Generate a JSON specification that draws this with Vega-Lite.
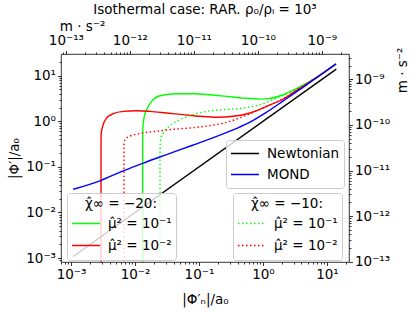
{
  "$schema": "https://vega.github.io/schema/vega-lite/v6.json",
  "width": 288,
  "height": 208,
  "autosize": {"type": "none"},
  "padding": {"left": 61, "top": 54, "right": 64, "bottom": 50},
  "background": "white",
  "title": {"text": "Isothermal case: RAR. ρ₀/ρₗ = 10³", "font": "DejaVu Sans", "fontSize": 13.5, "fontWeight": "normal", "color": "black", "anchor": "middle", "frame": "group", "offset": 3},
  "config": {
    "font": "DejaVu Sans",
    "view": {"stroke": "black", "strokeWidth": 0.8},
    "axis": {"domain": false, "grid": false, "tickColor": "black", "tickWidth": 0.8, "labelColor": "black", "labelFont": "DejaVu Sans", "labelFontSize": 13.5, "labelPadding": 2, "labelOverlap": false, "labelBound": false, "labelFlush": false, "titleFont": "DejaVu Sans", "titleFontWeight": "normal", "titleColor": "black", "titleFontSize": 13.5},
    "legend": {"labelFont": "DejaVu Sans", "labelFontSize": 13.5, "labelColor": "black", "titleFont": "DejaVu Sans", "titleFontSize": 13.5, "titleFontWeight": "normal", "titleColor": "black", "fillColor": "rgba(255,255,255,0.8)", "strokeColor": "#cccccc", "cornerRadius": 3, "symbolType": "stroke", "symbolSize": 784, "symbolStrokeWidth": 1.5, "symbolOpacity": 1, "labelOffset": 7, "padding": 4}
  },
  "datasets": {
    "ref": [
      {"s": "Newtonian", "x": 0.001081, "y": 0.001081},
      {"s": "Newtonian", "x": 14.0, "y": 14.0},
      {"s": "MOND", "x": 0.001081, "y": 0.03228},
      {"s": "MOND", "x": 0.002838, "y": 0.04955},
      {"s": "MOND", "x": 0.006561, "y": 0.08222},
      {"s": "MOND", "x": 0.01349, "y": 0.1216},
      {"s": "MOND", "x": 0.03126, "y": 0.1862},
      {"s": "MOND", "x": 0.08147, "y": 0.302},
      {"s": "MOND", "x": 0.1888, "y": 0.4677},
      {"s": "MOND", "x": 0.3981, "y": 0.7079},
      {"s": "MOND", "x": 0.6266, "y": 0.955},
      {"s": "MOND", "x": 1.14, "y": 1.585},
      {"s": "MOND", "x": 2.08, "y": 2.818},
      {"s": "MOND", "x": 3.784, "y": 5.012},
      {"s": "MOND", "x": 6.902, "y": 9.12},
      {"s": "MOND", "x": 13.84, "y": 18.2}
    ],
    "chi20": [
      {"mu": "μ̂² = 10⁻¹", "x": 0.01318, "y": 0.00001},
      {"mu": "μ̂² = 10⁻¹", "x": 0.01319, "y": 0.45},
      {"mu": "μ̂² = 10⁻¹", "x": 0.0133, "y": 0.7},
      {"mu": "μ̂² = 10⁻¹", "x": 0.01349, "y": 0.92},
      {"mu": "μ̂² = 10⁻¹", "x": 0.014, "y": 1.3},
      {"mu": "μ̂² = 10⁻¹", "x": 0.01521, "y": 1.8},
      {"mu": "μ̂² = 10⁻¹", "x": 0.0182, "y": 2.735},
      {"mu": "μ̂² = 10⁻¹", "x": 0.0246, "y": 3.639},
      {"mu": "μ̂² = 10⁻¹", "x": 0.04477, "y": 4.027},
      {"mu": "μ̂² = 10⁻¹", "x": 0.08147, "y": 4.027},
      {"mu": "μ̂² = 10⁻¹", "x": 0.1486, "y": 3.828},
      {"mu": "μ̂² = 10⁻¹", "x": 0.2704, "y": 3.524},
      {"mu": "μ̂² = 10⁻¹", "x": 0.4932, "y": 3.236},
      {"mu": "μ̂² = 10⁻¹", "x": 0.8974, "y": 3.076},
      {"mu": "μ̂² = 10⁻¹", "x": 1.285, "y": 3.184},
      {"mu": "μ̂² = 10⁻¹", "x": 2.08, "y": 3.828},
      {"mu": "μ̂² = 10⁻¹", "x": 3.784, "y": 5.7},
      {"mu": "μ̂² = 10⁻¹", "x": 6.902, "y": 9.25},
      {"mu": "μ̂² = 10⁻¹", "x": 13.84, "y": 18.15},
      {"mu": "μ̂² = 10⁻²", "x": 0.002944, "y": 0.00001},
      {"mu": "μ̂² = 10⁻²", "x": 0.002946, "y": 0.35},
      {"mu": "μ̂² = 10⁻²", "x": 0.00297, "y": 0.55},
      {"mu": "μ̂² = 10⁻²", "x": 0.003126, "y": 0.778},
      {"mu": "μ̂² = 10⁻²", "x": 0.003606, "y": 1.183},
      {"mu": "μ̂² = 10⁻²", "x": 0.004581, "y": 1.472},
      {"mu": "μ̂² = 10⁻²", "x": 0.006577, "y": 1.656},
      {"mu": "μ̂² = 10⁻²", "x": 0.01062, "y": 1.71},
      {"mu": "μ̂² = 10⁻²", "x": 0.01714, "y": 1.656},
      {"mu": "μ̂² = 10⁻²", "x": 0.03126, "y": 1.524},
      {"mu": "μ̂² = 10⁻²", "x": 0.05689, "y": 1.4},
      {"mu": "μ̂² = 10⁻²", "x": 0.1038, "y": 1.288},
      {"mu": "μ̂² = 10⁻²", "x": 0.1888, "y": 1.225},
      {"mu": "μ̂² = 10⁻²", "x": 0.3436, "y": 1.288},
      {"mu": "μ̂² = 10⁻²", "x": 0.6266, "y": 1.524},
      {"mu": "μ̂² = 10⁻²", "x": 1.14, "y": 2.128},
      {"mu": "μ̂² = 10⁻²", "x": 2.08, "y": 3.09},
      {"mu": "μ̂² = 10⁻²", "x": 3.784, "y": 5.37},
      {"mu": "μ̂² = 10⁻²", "x": 6.902, "y": 9.2},
      {"mu": "μ̂² = 10⁻²", "x": 13.84, "y": 18.15}
    ],
    "chi10": [
      {"mu": "μ̂² = 10⁻¹", "x": 0.0246, "y": 0.00001},
      {"mu": "μ̂² = 10⁻¹", "x": 0.02461, "y": 0.2},
      {"mu": "μ̂² = 10⁻¹", "x": 0.0248, "y": 0.33},
      {"mu": "μ̂² = 10⁻¹", "x": 0.0256, "y": 0.45},
      {"mu": "μ̂² = 10⁻¹", "x": 0.02773, "y": 0.557},
      {"mu": "μ̂² = 10⁻¹", "x": 0.03319, "y": 0.752},
      {"mu": "μ̂² = 10⁻¹", "x": 0.04477, "y": 1.0},
      {"mu": "μ̂² = 10⁻¹", "x": 0.07228, "y": 1.33},
      {"mu": "μ̂² = 10⁻¹", "x": 0.1318, "y": 1.656},
      {"mu": "μ̂² = 10⁻¹", "x": 0.2399, "y": 1.799},
      {"mu": "μ̂² = 10⁻¹", "x": 0.4932, "y": 1.959},
      {"mu": "μ̂² = 10⁻¹", "x": 0.8974, "y": 2.317},
      {"mu": "μ̂² = 10⁻¹", "x": 1.637, "y": 3.236},
      {"mu": "μ̂² = 10⁻¹", "x": 3.784, "y": 5.65},
      {"mu": "μ̂² = 10⁻¹", "x": 6.902, "y": 9.25},
      {"mu": "μ̂² = 10⁻¹", "x": 13.84, "y": 18.15},
      {"mu": "μ̂² = 10⁻²", "x": 0.00673, "y": 0.00001},
      {"mu": "μ̂² = 10⁻²", "x": 0.006732, "y": 0.25},
      {"mu": "μ̂² = 10⁻²", "x": 0.0068, "y": 0.33},
      {"mu": "μ̂² = 10⁻²", "x": 0.006982, "y": 0.398},
      {"mu": "μ̂² = 10⁻²", "x": 0.008356, "y": 0.471},
      {"mu": "μ̂² = 10⁻²", "x": 0.01349, "y": 0.557},
      {"mu": "μ̂² = 10⁻²", "x": 0.02183, "y": 0.605},
      {"mu": "μ̂² = 10⁻²", "x": 0.03524, "y": 0.658},
      {"mu": "μ̂² = 10⁻²", "x": 0.07228, "y": 0.716},
      {"mu": "μ̂² = 10⁻²", "x": 0.1486, "y": 0.805},
      {"mu": "μ̂² = 10⁻²", "x": 0.3048, "y": 1.0},
      {"mu": "μ̂² = 10⁻²", "x": 0.6266, "y": 1.472},
      {"mu": "μ̂² = 10⁻²", "x": 1.14, "y": 2.138},
      {"mu": "μ̂² = 10⁻²", "x": 2.08, "y": 3.162},
      {"mu": "μ̂² = 10⁻²", "x": 3.784, "y": 5.45},
      {"mu": "μ̂² = 10⁻²", "x": 6.902, "y": 9.2},
      {"mu": "μ̂² = 10⁻²", "x": 13.84, "y": 18.15}
    ]
  },
  "layer": [
    {
      "data": {"name": "chi20"},
      "mark": {"type": "line", "strokeWidth": 1.4, "clip": true, "interpolate": "monotone"},
      "encoding": {
        "x": {"field": "x", "type": "quantitative", "scale": {"type": "log", "domain": [0.000698, 22.1], "nice": false},
          "axis": {"orient": "bottom",
            "values": [0.0007, 0.0008, 0.0009, 0.001, 0.002, 0.003, 0.004, 0.005, 0.006, 0.007, 0.008, 0.009, 0.01, 0.02, 0.03, 0.04, 0.05, 0.06, 0.07, 0.08, 0.09, 0.1, 0.2, 0.3, 0.4, 0.5, 0.6, 0.7, 0.8, 0.9, 1, 2, 3, 4, 5, 6, 7, 8, 9, 10, 20],
            "labelExpr": "abs(log(datum.value)/LN10 - round(log(datum.value)/LN10)) > 0.001 ? '' : round(log(datum.value)/LN10) == -3 ? '10⁻³' : round(log(datum.value)/LN10) == -2 ? '10⁻²' : round(log(datum.value)/LN10) == -1 ? '10⁻¹' : round(log(datum.value)/LN10) == 0 ? '10⁰' : '10¹'",
            "tickSize": {"condition": {"test": "abs(log(datum.value)/LN10 - round(log(datum.value)/LN10)) < 0.001", "value": 3.5}, "value": 2},
            "title": "|Φ′ₙ|/a₀", "titleX": 144, "titleY": 37, "titleAlign": "center", "titleBaseline": "middle"}},
        "y": {"field": "y", "type": "quantitative", "scale": {"type": "log", "domain": [0.00082, 30], "nice": false},
          "axis": {"orient": "left",
            "values": [0.0009, 0.001, 0.002, 0.003, 0.004, 0.005, 0.006, 0.007, 0.008, 0.009, 0.01, 0.02, 0.03, 0.04, 0.05, 0.06, 0.07, 0.08, 0.09, 0.1, 0.2, 0.3, 0.4, 0.5, 0.6, 0.7, 0.8, 0.9, 1, 2, 3, 4, 5, 6, 7, 8, 9, 10, 20],
            "labelExpr": "abs(log(datum.value)/LN10 - round(log(datum.value)/LN10)) > 0.001 ? '' : round(log(datum.value)/LN10) == -3 ? '10⁻³' : round(log(datum.value)/LN10) == -2 ? '10⁻²' : round(log(datum.value)/LN10) == -1 ? '10⁻¹' : round(log(datum.value)/LN10) == 0 ? '10⁰' : '10¹'",
            "tickSize": {"condition": {"test": "abs(log(datum.value)/LN10 - round(log(datum.value)/LN10)) < 0.001", "value": 3.5}, "value": 2},
            "title": "|Φ′|/a₀", "titleX": -47, "titleY": 104, "titleAngle": 270, "titleAlign": "center", "titleBaseline": "middle"}},
        "color": {"field": "mu", "type": "nominal", "scale": {"domain": ["μ̂² = 10⁻¹", "μ̂² = 10⁻²"], "range": ["#00ff00", "#ff0000"]},
          "legend": {"orient": "none", "legendX": 6, "legendY": 139, "title": "χ̂∞ = −20:", "titleAnchor": "middle", "titlePadding": 3, "clipHeight": 20}}
      }
    },
    {
      "data": {"name": "chi10"},
      "mark": {"type": "line", "strokeWidth": 1.4, "clip": true, "interpolate": "monotone", "strokeDash": [1.5, 2.5]},
      "encoding": {
        "x": {"field": "x", "type": "quantitative", "scale": {"type": "log", "domain": [0.000698, 22.1], "nice": false},
          "axis": {"orient": "top",
            "values": [0.00075, 0.000833333, 0.00166667, 0.0025, 0.00333333, 0.00416667, 0.005, 0.00583333, 0.00666667, 0.0075, 0.00833333, 0.0166667, 0.025, 0.0333333, 0.0416667, 0.05, 0.0583333, 0.0666667, 0.075, 0.0833333, 0.166667, 0.25, 0.333333, 0.416667, 0.5, 0.583333, 0.666667, 0.75, 0.833333, 1.66667, 2.5, 3.33333, 4.16667, 5, 5.83333, 6.66667, 7.5, 8.33333, 16.6667],
            "labelExpr": "abs(log(datum.value*1.2e-10)/LN10 - round(log(datum.value*1.2e-10)/LN10)) > 0.001 ? '' : round(log(datum.value*1.2e-10)/LN10) == -13 ? '10⁻¹³' : round(log(datum.value*1.2e-10)/LN10) == -12 ? '10⁻¹²' : round(log(datum.value*1.2e-10)/LN10) == -11 ? '10⁻¹¹' : round(log(datum.value*1.2e-10)/LN10) == -10 ? '10⁻¹⁰' : '10⁻⁹'",
            "tickSize": {"condition": {"test": "abs(log(datum.value*1.2e-10)/LN10 - round(log(datum.value*1.2e-10)/LN10)) < 0.001", "value": 3.5}, "value": 2},
            "labelPadding": 3,
            "title": "m · s⁻²", "titleX": 21, "titleY": -28, "titleAlign": "center", "titleBaseline": "middle", "titleAngle": 0}},
        "y": {"field": "y", "type": "quantitative", "scale": {"type": "log", "domain": [0.00082, 30], "nice": false},
          "axis": {"orient": "right",
            "values": [0.000833333, 0.00166667, 0.0025, 0.00333333, 0.00416667, 0.005, 0.00583333, 0.00666667, 0.0075, 0.00833333, 0.0166667, 0.025, 0.0333333, 0.0416667, 0.05, 0.0583333, 0.0666667, 0.075, 0.0833333, 0.166667, 0.25, 0.333333, 0.416667, 0.5, 0.583333, 0.666667, 0.75, 0.833333, 1.66667, 2.5, 3.33333, 4.16667, 5, 5.83333, 6.66667, 7.5, 8.33333, 16.6667, 25],
            "labelExpr": "abs(log(datum.value*1.2e-10)/LN10 - round(log(datum.value*1.2e-10)/LN10)) > 0.001 ? '' : round(log(datum.value*1.2e-10)/LN10) == -13 ? '10⁻¹³' : round(log(datum.value*1.2e-10)/LN10) == -12 ? '10⁻¹²' : round(log(datum.value*1.2e-10)/LN10) == -11 ? '10⁻¹¹' : round(log(datum.value*1.2e-10)/LN10) == -10 ? '10⁻¹⁰' : '10⁻⁹'",
            "tickSize": {"condition": {"test": "abs(log(datum.value*1.2e-10)/LN10 - round(log(datum.value*1.2e-10)/LN10)) < 0.001", "value": 3.5}, "value": 2},
            "title": "m · s⁻²", "titleX": 53, "titleY": 16, "titleAngle": 270, "titleAlign": "center", "titleBaseline": "middle"}},
        "color": {"field": "mu", "type": "nominal", "scale": {"domain": ["μ̂² = 10⁻¹", "μ̂² = 10⁻²"], "range": ["#00ff00", "#ff0000"]},
          "legend": {"orient": "none", "legendX": 172, "legendY": 139, "title": "χ̂∞ = −10:", "titleAnchor": "middle", "titlePadding": 3, "clipHeight": 20, "symbolDash": [1.5, 2.5]}}
      }
    },
    {
      "data": {"name": "ref"},
      "mark": {"type": "line", "strokeWidth": 1.4, "clip": true, "interpolate": "monotone"},
      "encoding": {
        "x": {"field": "x", "type": "quantitative", "scale": {"type": "log", "domain": [0.000698, 22.1], "nice": false}, "axis": null},
        "y": {"field": "y", "type": "quantitative", "scale": {"type": "log", "domain": [0.00082, 30], "nice": false}, "axis": null},
        "color": {"field": "s", "type": "nominal", "scale": {"domain": ["Newtonian", "MOND"], "range": ["black", "blue"]},
          "legend": {"orient": "none", "legendX": 165, "legendY": 86, "title": null, "clipHeight": 19}}
      }
    }
  ],
  "resolve": {"scale": {"color": "independent"}, "axis": {"x": "independent", "y": "independent"}}
}
